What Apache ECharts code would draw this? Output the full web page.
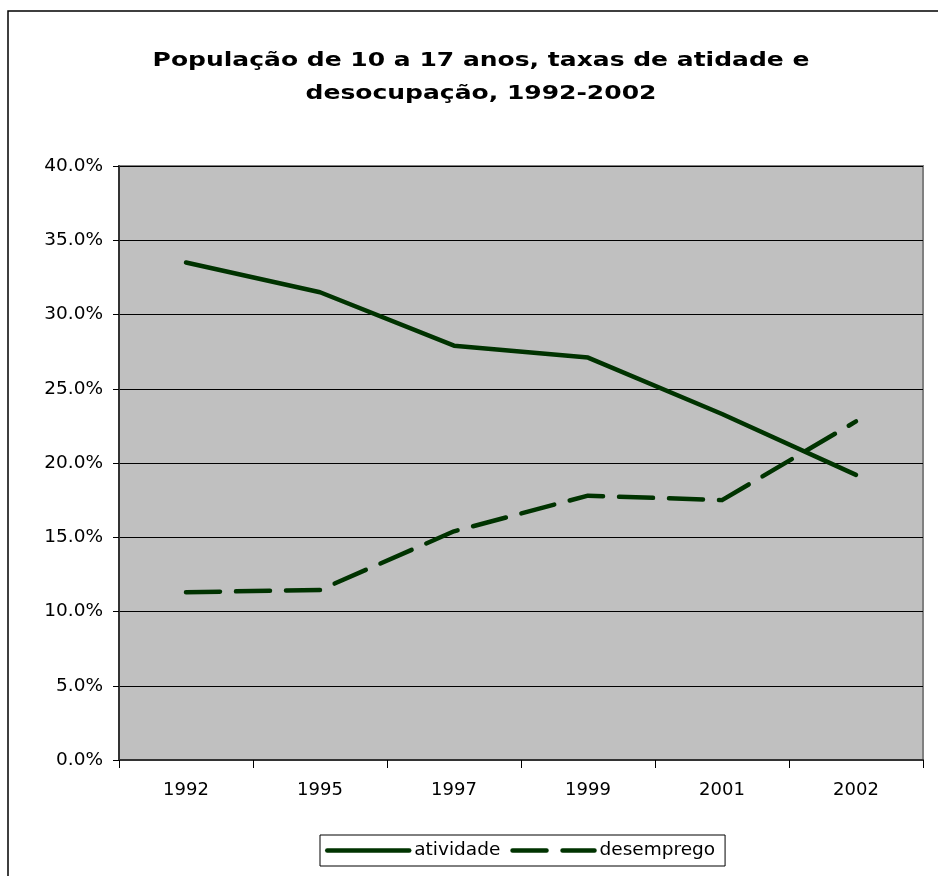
<!DOCTYPE html>
<html>
<head>
<meta charset="utf-8">
<script src="https://cdn.jsdelivr.net/npm/echarts@6/dist/echarts.min.js"></script>
<style>
  html, body { margin: 0; padding: 0; background: #fff; }
  #chart { width: 938px; height: 876px; }
</style>
</head>
<body>
<div id="chart"></div>
<script>
// Years on the category axis
const years = ['1992', '1995', '1997', '1999', '2001', '2002'];
// Activity rate of 10-17 year olds (%)
const atividade = [33.5, 31.5, 27.9, 27.1, 23.3, 19.2];
// Unemployment rate of 10-17 year olds (%)
const desemprego = [11.3, 11.45, 15.4, 17.8, 17.5, 22.8];

const lineColor = '#003300';
const font = 'DejaVu Sans, Verdana, sans-serif';

const chart = echarts.init(document.getElementById('chart'), null, { renderer: 'canvas' });

chart.setOption({
  backgroundColor: '#ffffff',
  animation: false,
  graphic: [
    {
      type: 'rect',
      silent: true,
      shape: { x: 8, y: 11, width: 940, height: 880 },
      style: { fill: 'none', stroke: '#000', lineWidth: 1.5 }
    },
    {
      // wide bold heading, stretched horizontally like a Verdana Bold title
      type: 'text',
      silent: true,
      x: 481,
      y: 44,
      scaleX: 1.25,
      style: {
        text: 'População de 10 a 17 anos, taxas de atidade e\ndesocupação, 1992-2002',
        font: 'bold 20px ' + font,
        lineHeight: 33,
        align: 'center',
        verticalAlign: 'top',
        fill: '#000'
      }
    }
  ],
  legend: {
    left: 320,
    top: 835,
    orient: 'horizontal',
    borderColor: '#000',
    borderWidth: 1,
    padding: [6, 10, 6, 5],
    itemWidth: 82,
    itemHeight: 16,
    itemGap: 10,
    itemStyle: { opacity: 0 },
    lineStyle: { width: 4.5, cap: 'round' },
    textStyle: { fontFamily: font, fontSize: 18.5, color: '#000' },
    data: ['atividade', 'desemprego']
  },
  grid: {
    left: 119,
    right: 15,
    top: 166,
    bottom: 116,
    show: true,
    backgroundColor: '#C0C0C0',
    borderColor: '#808080',
    borderWidth: 2
  },
  xAxis: {
    type: 'category',
    data: years,
    boundaryGap: true,
    axisLine: { show: true, lineStyle: { color: '#333', width: 2 } },
    axisTick: { show: true, length: 8, lineStyle: { color: '#000' } },
    axisLabel: { fontFamily: font, fontSize: 18, color: '#000', margin: 21 },
    splitLine: { show: false }
  },
  yAxis: {
    type: 'value',
    min: 0,
    max: 40,
    interval: 5,
    axisLine: { show: true, lineStyle: { color: '#333', width: 2 } },
    axisTick: { show: true, length: 6, lineStyle: { color: '#000' } },
    axisLabel: {
      fontFamily: font,
      fontSize: 18.5,
      color: '#000',
      margin: 16,
      formatter: v => v.toFixed(1) + '%'
    },
    splitLine: { show: true, lineStyle: { color: '#000', width: 1 } }
  },
  series: [
    {
      name: 'atividade',
      type: 'line',
      data: atividade,
      symbol: 'none',
      color: lineColor,
      lineStyle: { color: lineColor, width: 4.5, cap: 'round', join: 'round' }
    },
    {
      name: 'desemprego',
      type: 'line',
      data: desemprego,
      symbol: 'none',
      color: lineColor,
      lineStyle: { color: lineColor, width: 4.5, type: [34, 16], cap: 'round', join: 'round' }
    }
  ]
});
</script>
</body>
</html>
